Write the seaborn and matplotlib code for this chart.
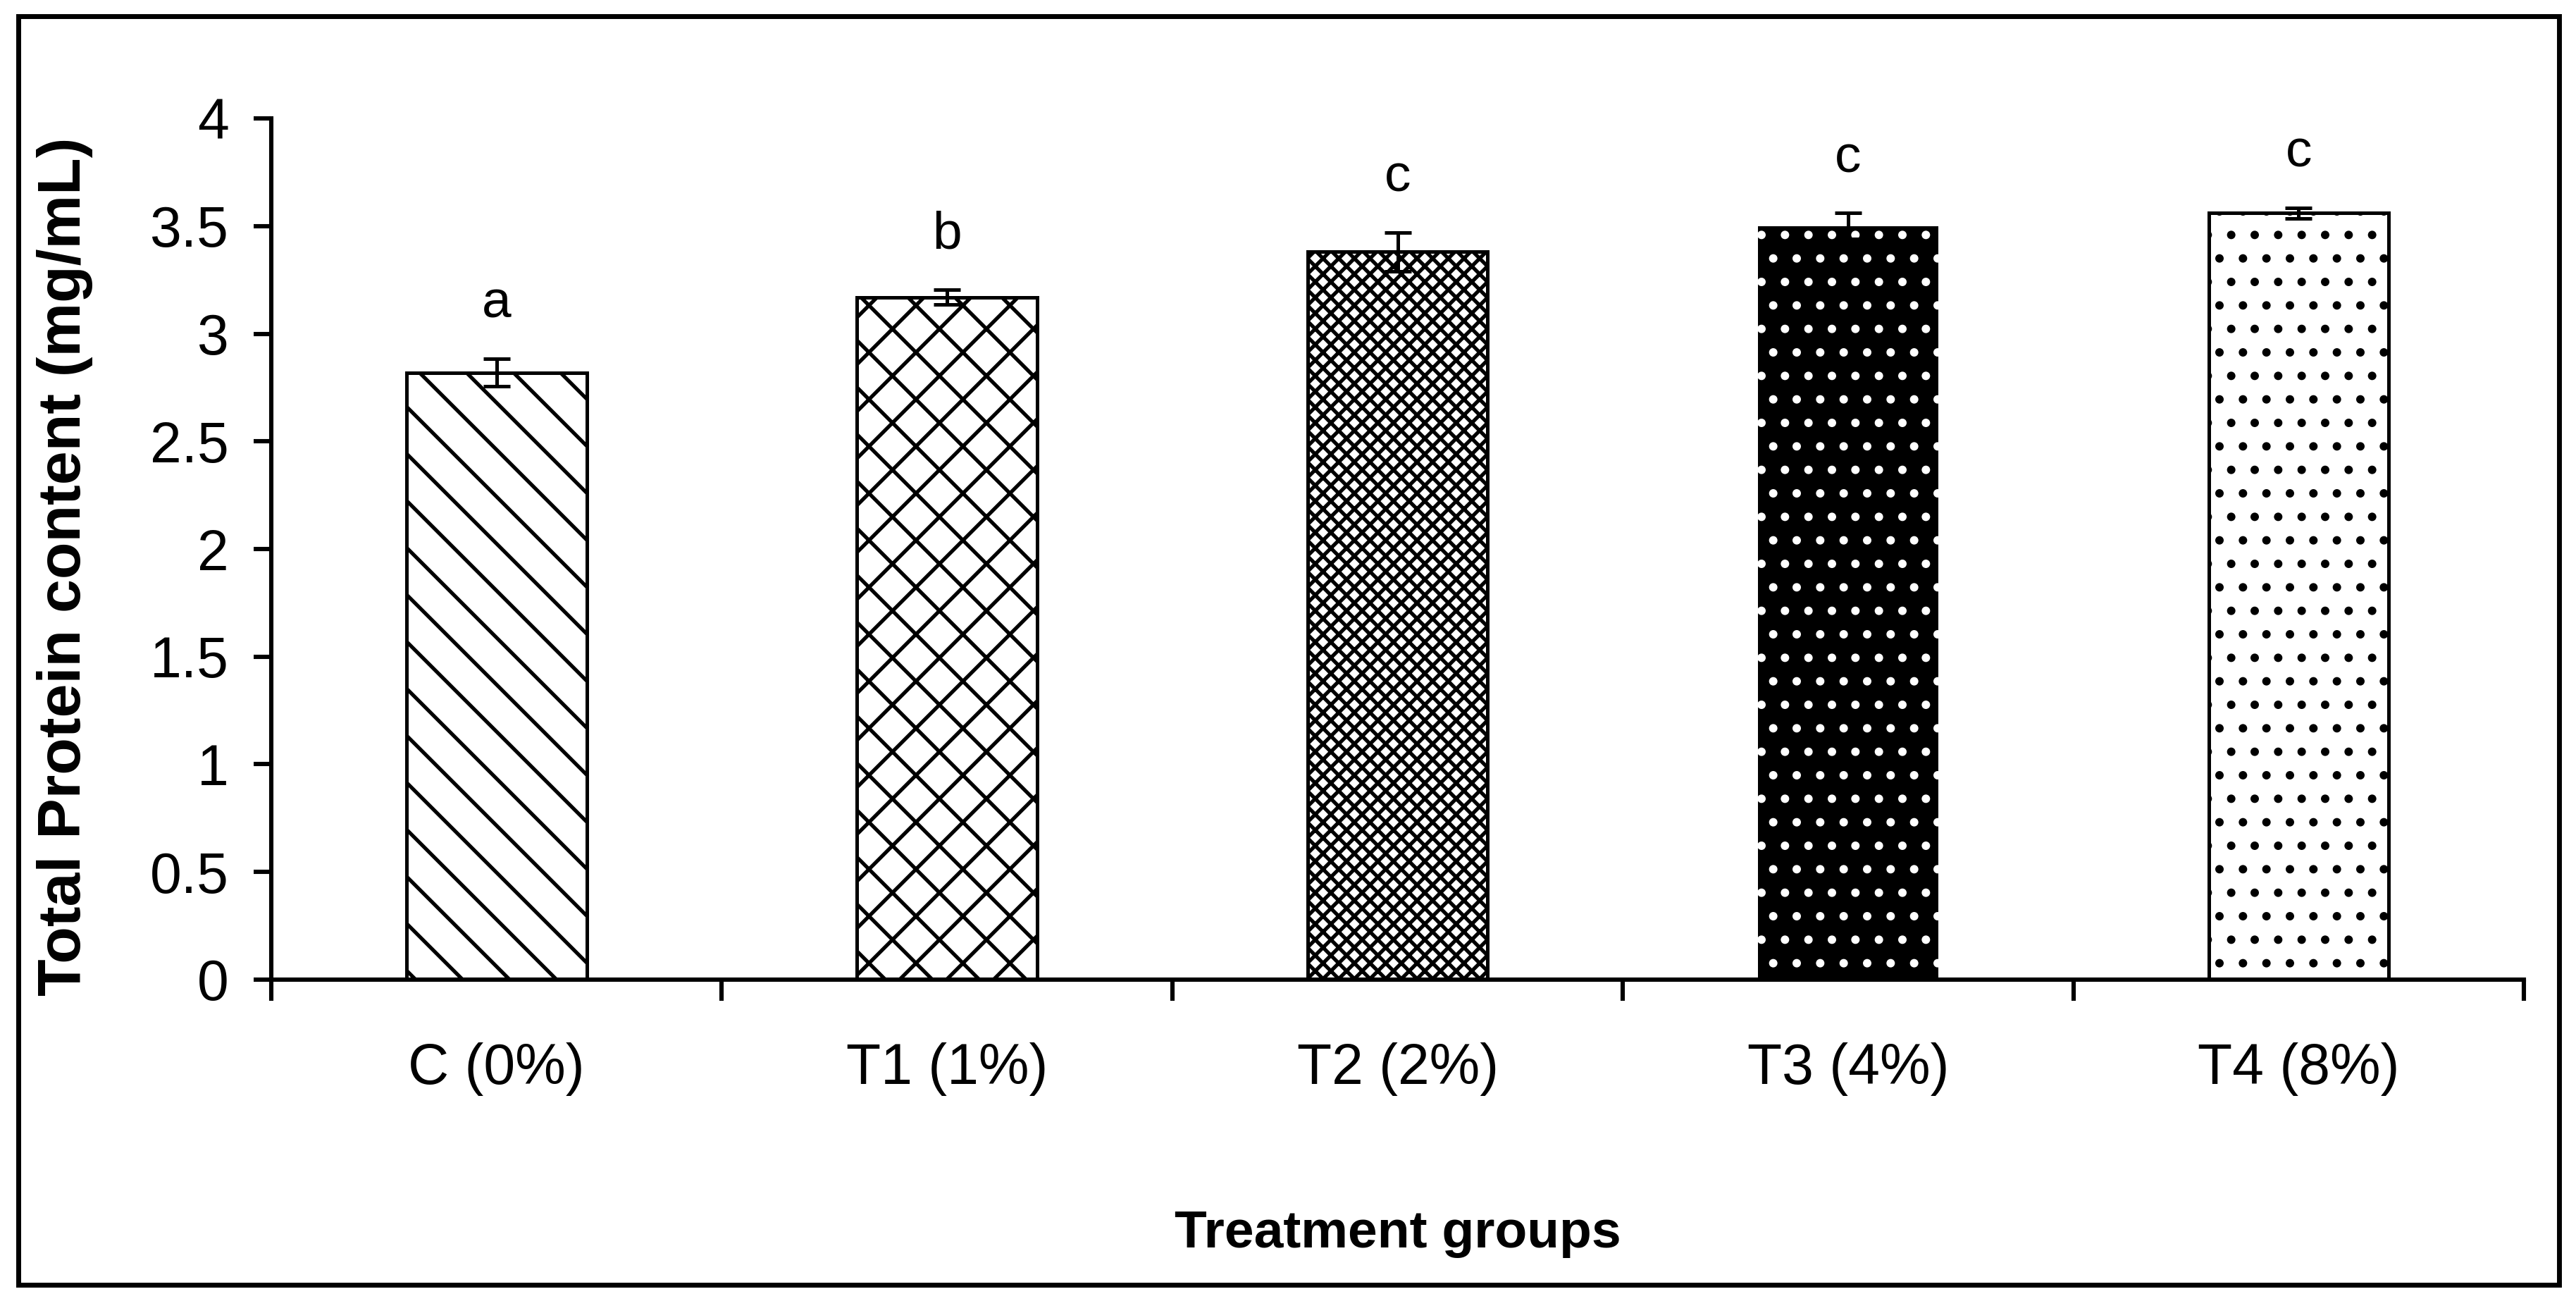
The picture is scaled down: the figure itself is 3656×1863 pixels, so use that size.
import numpy as np
import pandas as pd
import seaborn as sns
import matplotlib.pyplot as plt
from matplotlib.patches import Rectangle
from matplotlib.ticker import FixedLocator

groups = ["C (0%)", "T1 (1%)", "T2 (2%)", "T3 (4%)", "T4 (8%)"]
protein = [2.82, 3.17, 3.38, 3.50, 3.56]
sem = [0.065, 0.035, 0.09, 0.06, 0.025]
letters = ["a", "b", "c", "c", "c"]
yticks = [0, 0.5, 1, 1.5, 2, 2.5, 3, 3.5, 4]
ytick_labels = ["0", "0.5", "1", "1.5", "2", "2.5", "3", "3.5", "4"]

df = pd.DataFrame({"group": groups, "protein": protein})

sns.set_style("white")
plt.rcParams["font.family"] = ["Liberation Sans", "DejaVu Sans"]
plt.rcParams["hatch.linewidth"] = 1.9
for k in ["text.color", "axes.labelcolor", "xtick.color", "ytick.color"]:
    plt.rcParams[k] = "black"

fig = plt.figure(figsize=(18.28, 9.315), dpi=200)
ax = fig.add_axes([0.1053, 0.2539, 0.8745, 0.6559])

sns.barplot(data=df, x="group", y="protein", width=0.4, color="white",
            saturation=1, edgecolor="black", linewidth=1.8, errorbar=None, ax=ax)

# Excel-like fill patterns per bar
hatches = ["\\", "x", "xxx", ".", "."]
faces = ["white", "white", "white", "black", "white"]
edges = ["black", "black", "black", "white", "black"]
for bar, h, fc, ec in zip(ax.patches, hatches, faces, edges):
    bar.set_hatch(h)
    bar.set_facecolor(fc)
    bar.set_edgecolor(ec)
    if fc == "black":
        bar.set_linewidth(0)

xpos = np.arange(len(groups))
ax.errorbar(xpos, protein, yerr=sem, fmt="none", ecolor="black",
            elinewidth=1.8, capsize=7, capthick=1.8)

for x, m, e, lab in zip(xpos, protein, sem, letters):
    ax.text(x, m + e + 0.19, lab, ha="center", va="baseline", fontsize=27)

ax.set_xlim(-0.5, len(groups) - 0.5)
ax.set_ylim(0, 4)
ax.set_yticks(yticks, ytick_labels)

ax.xaxis.set_minor_locator(FixedLocator(np.arange(-0.5, len(groups), 1)))
ax.tick_params(axis="x", which="major", length=0, pad=32, labelsize=29)
ax.tick_params(axis="x", which="minor", bottom=True, length=10.8, width=2.2,
               direction="out")
ax.tick_params(axis="y", left=True, length=9, width=2.2, direction="out",
               pad=12.6, labelsize=29)

ax.spines[["top", "right"]].set_visible(False)
for s in ["left", "bottom"]:
    ax.spines[s].set_linewidth(2.2)
    ax.spines[s].set_color("black")

ax.set_xlabel("Treatment groups", fontsize=27, fontweight="bold", va="center")
ax.xaxis.set_label_coords(0.5, -0.295)
ax.set_ylabel("Total Protein content (mg/mL)", fontsize=31, fontweight="bold",
              va="center")
ax.yaxis.set_label_coords(-0.0916, 0.48)

# outer frame around the whole chart
fig.add_artist(Rectangle((26 / 3656, 1 - 1823 / 1863), 3606 / 3656, 1800 / 1863,
                         transform=fig.transFigure, fill=False, lw=2.5, ec="black"))

fig.savefig("out.png", dpi=200)
